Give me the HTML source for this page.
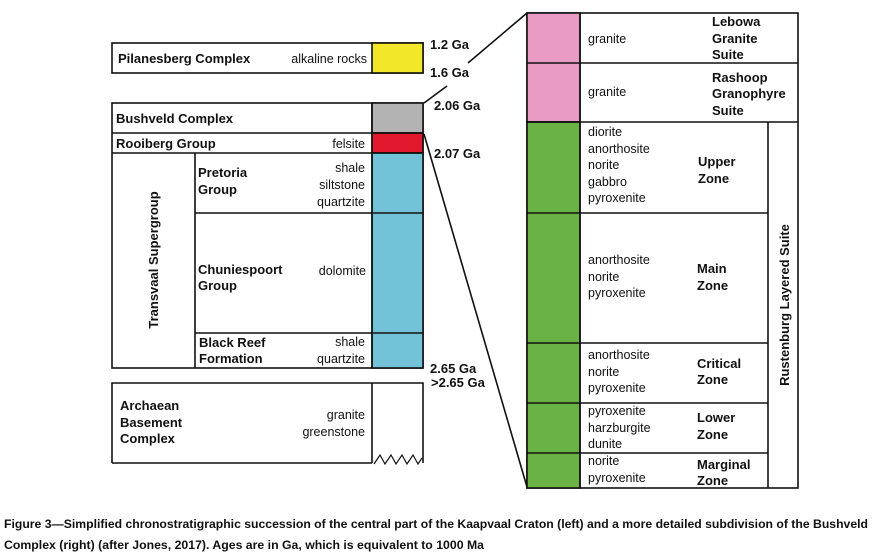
<!DOCTYPE html>
<html><head><meta charset="utf-8"><style>
html,body{margin:0;padding:0;background:#fff;}
svg{display:block;font-family:"Liberation Sans",Arial,sans-serif;}
.b{font-weight:bold;font-size:13px;}
.r{font-size:12.5px;}
</style></head><body>
<svg width="875" height="559" viewBox="0 0 875 559">
<g stroke="#111" stroke-width="1.6" fill="none">
 <rect x="112" y="43" width="311" height="30" fill="#fff"/>
 <rect x="372" y="43" width="51" height="30" fill="#f2e829"/>
 <rect x="112" y="103" width="311" height="265" fill="#fff"/>
 <rect x="372" y="103" width="51" height="30" fill="#b3b3b3"/>
 <rect x="372" y="133" width="51" height="20" fill="#e2182f"/>
 <rect x="372" y="153" width="51" height="215" fill="#72c3d8"/>
 <line x1="112" y1="133" x2="423" y2="133"/>
 <line x1="112" y1="153" x2="423" y2="153"/>
 <line x1="195" y1="213" x2="423" y2="213"/>
 <line x1="195" y1="333" x2="423" y2="333"/>
 <line x1="195" y1="153" x2="195" y2="368"/>
 <line x1="372" y1="103" x2="372" y2="368"/>
 <path d="M112 463 L112 383 L423 383 L423 463 M112 463 L372 463 M372 383 L372 463" fill="#fff"/>
 <path d="M374 464 l6 -9 l5 9 l6 -9 l5 9 l6 -9 l5 9 l6 -9 l5 9 l4 -6" stroke-width="1.2"/>
 <line x1="424" y1="103" x2="447" y2="86"/>
 <line x1="468" y1="63" x2="527" y2="13"/>
 <line x1="424" y1="134" x2="527" y2="487"/>
 <rect x="527" y="13" width="271" height="475" fill="#fff"/>
 <rect x="527" y="13" width="53" height="109" fill="#ea9bc3"/>
 <rect x="527" y="122" width="53" height="366" fill="#6bb244"/>
 <line x1="527" y1="63" x2="798" y2="63"/>
 <line x1="527" y1="122" x2="798" y2="122"/>
 <line x1="527" y1="213" x2="768" y2="213"/>
 <line x1="527" y1="343" x2="768" y2="343"/>
 <line x1="527" y1="403" x2="768" y2="403"/>
 <line x1="527" y1="453" x2="768" y2="453"/>
 <line x1="768" y1="122" x2="768" y2="488"/>
 <line x1="580" y1="13" x2="580" y2="488"/>
</g>
<g fill="#111">
 <text class="b" x="118" y="63">Pilanesberg Complex</text>
 <text class="r" x="367" y="63" text-anchor="end">alkaline rocks</text>
 <text class="b" x="116" y="123">Bushveld Complex</text>
 <text class="b" x="116" y="148">Rooiberg Group</text>
 <text class="r" x="365" y="148" text-anchor="end">felsite</text>
 <text class="b" x="198" y="177">Pretoria</text><text class="b" x="198" y="194">Group</text>
 <text class="r" x="365" y="172" text-anchor="end">shale</text>
 <text class="r" x="365" y="189" text-anchor="end">siltstone</text>
 <text class="r" x="365" y="206" text-anchor="end">quartzite</text>
 <text class="b" x="198" y="274">Chuniespoort</text><text class="b" x="198" y="290">Group</text>
 <text class="r" x="366" y="275" text-anchor="end">dolomite</text>
 <text class="b" x="199" y="347">Black Reef</text><text class="b" x="199" y="363">Formation</text>
 <text class="r" x="365" y="346" text-anchor="end">shale</text>
 <text class="r" x="365" y="363" text-anchor="end">quartzite</text>
 <text class="b" transform="translate(158,260) rotate(-90)" text-anchor="middle">Transvaal Supergroup</text>
 <text class="b" x="120" y="410">Archaean</text><text class="b" x="120" y="427">Basement</text><text class="b" x="120" y="443">Complex</text>
 <text class="r" x="365" y="419" text-anchor="end">granite</text>
 <text class="r" x="365" y="436" text-anchor="end">greenstone</text>
 <text class="b" x="430" y="49">1.2 Ga</text>
 <text class="b" x="430" y="77">1.6 Ga</text>
 <text class="b" x="434" y="110">2.06 Ga</text>
 <text class="b" x="434" y="158">2.07 Ga</text>
 <text class="b" x="430" y="373">2.65 Ga</text>
 <text class="b" x="431" y="387">&gt;2.65 Ga</text>
 <text class="r" x="588" y="43">granite</text>
 <text class="b" x="712" y="26">Lebowa</text><text class="b" x="712" y="43">Granite</text><text class="b" x="712" y="59">Suite</text>
 <text class="r" x="588" y="96">granite</text>
 <text class="b" x="712" y="82">Rashoop</text><text class="b" x="712" y="98">Granophyre</text><text class="b" x="712" y="115">Suite</text>
 <text class="r" x="588" y="136">diorite</text><text class="r" x="588" y="153">anorthosite</text><text class="r" x="588" y="169">norite</text><text class="r" x="588" y="186">gabbro</text><text class="r" x="588" y="202">pyroxenite</text>
 <text class="b" x="698" y="166">Upper</text><text class="b" x="698" y="183">Zone</text>
 <text class="r" x="588" y="264">anorthosite</text><text class="r" x="588" y="281">norite</text><text class="r" x="588" y="297">pyroxenite</text>
 <text class="b" x="697" y="273">Main</text><text class="b" x="697" y="290">Zone</text>
 <text class="r" x="588" y="359">anorthosite</text><text class="r" x="588" y="376">norite</text><text class="r" x="588" y="392">pyroxenite</text>
 <text class="b" x="697" y="368">Critical</text><text class="b" x="697" y="384">Zone</text>
 <text class="r" x="588" y="415">pyroxenite</text><text class="r" x="588" y="432">harzburgite</text><text class="r" x="588" y="448">dunite</text>
 <text class="b" x="697" y="422">Lower</text><text class="b" x="697" y="439">Zone</text>
 <text class="r" x="588" y="465">norite</text><text class="r" x="588" y="482">pyroxenite</text>
 <text class="b" x="697" y="469">Marginal</text><text class="b" x="697" y="485">Zone</text>
 <text class="b" transform="translate(789,305) rotate(-90)" text-anchor="middle">Rustenburg Layered Suite</text>
 <text x="4" y="528" font-size="11.5" font-weight="bold" textLength="864" lengthAdjust="spacingAndGlyphs">Figure 3—Simplified chronostratigraphic succession of the central part of the Kaapvaal Craton (left) and a more detailed subdivision of the Bushveld</text>
 <text x="4" y="549" font-size="11.5" font-weight="bold" textLength="480" lengthAdjust="spacingAndGlyphs">Complex (right) (after Jones, 2017). Ages are in Ga, which is equivalent to 1000 Ma</text>
</g>
</svg>
</body></html>
